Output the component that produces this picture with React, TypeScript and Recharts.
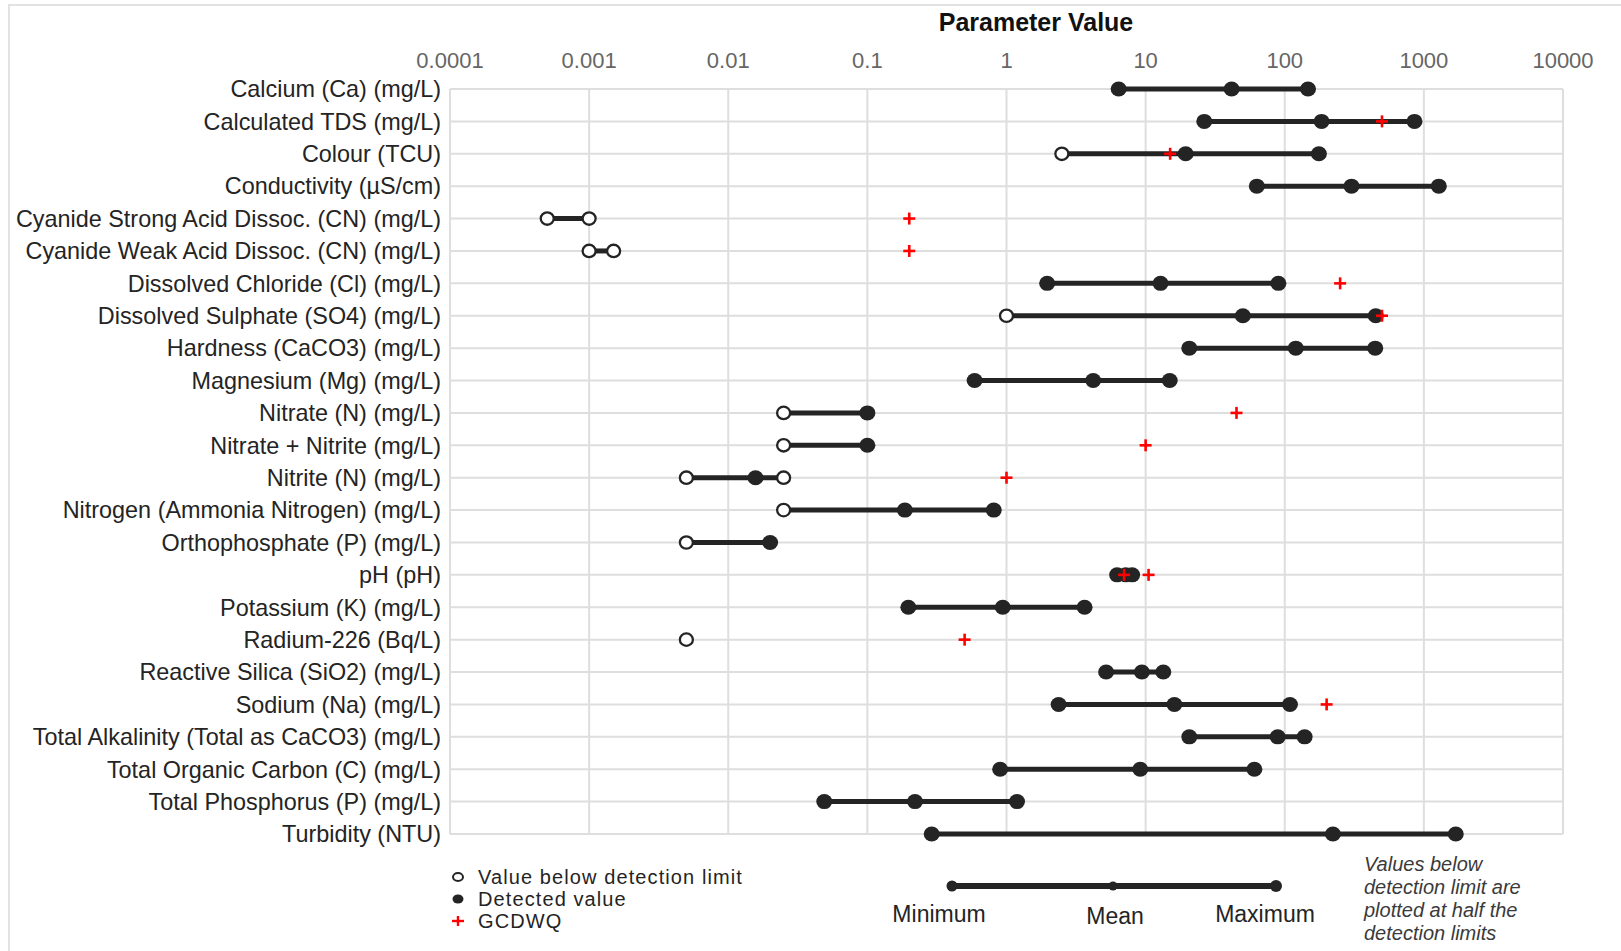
import React from 'react';
import { CartesianGrid, Scatter, ScatterChart, XAxis, YAxis } from 'recharts';

const params = [
  'Calcium (Ca) (mg/L)',
  'Calculated TDS (mg/L)',
  'Colour (TCU)',
  'Conductivity (µS/cm)',
  'Cyanide Strong Acid Dissoc. (CN) (mg/L)',
  'Cyanide Weak Acid Dissoc. (CN) (mg/L)',
  'Dissolved Chloride (Cl) (mg/L)',
  'Dissolved Sulphate (SO4) (mg/L)',
  'Hardness (CaCO3) (mg/L)',
  'Magnesium (Mg) (mg/L)',
  'Nitrate (N) (mg/L)',
  'Nitrate + Nitrite (mg/L)',
  'Nitrite (N) (mg/L)',
  'Nitrogen (Ammonia Nitrogen) (mg/L)',
  'Orthophosphate (P) (mg/L)',
  'pH (pH)',
  'Potassium (K) (mg/L)',
  'Radium-226 (Bq/L)',
  'Reactive Silica (SiO2) (mg/L)',
  'Sodium (Na) (mg/L)',
  'Total Alkalinity (Total as CaCO3) (mg/L)',
  'Total Organic Carbon (C) (mg/L)',
  'Total Phosphorus (P) (mg/L)',
  'Turbidity (NTU)',
];

const minValues = [
  6.4, 26.4, 2.5, 63, 0.0005, 0.001, 1.96, 1.0, 20.6, 0.59, 0.025, 0.025,
  0.005, 0.025, 0.005, 6.24, 0.197, 0.005, 5.2, 2.37, 20.6, 0.9, 0.049, 0.29,
];
const meanValues = [
  41.5, 184, 19.4, 302, null, null, 12.8, 50, 120, 4.2, null, null,
  0.0157, 0.186, null, 7.2, 0.94, null, 9.4, 16.1, 89, 9.15, 0.22, 222,
];
const maxValues = [
  147, 856, 176, 1280, 0.001, 0.0015, 90, 451, 447, 14.9, 0.1, 0.1,
  0.025, 0.81, 0.02, 8.0, 3.64, null, 13.4, 109, 139, 60.5, 1.19, 1695,
];

// true = below detection limit (plotted at half the limit, open marker)
const minBelowDL = [
  false, false, true, false, true, true, false, true, false, false, true, true,
  true, true, true, false, false, true, false, false, false, false, false, false,
];
const maxBelowDL = [
  false, false, false, false, true, true, false, false, false, false, false, false,
  true, false, false, false, false, false, false, false, false, false, false, false,
];

// Guidelines for Canadian Drinking Water Quality
const gcdwq: number[][] = [
  [], [500], [15], [], [0.2], [0.2], [250], [500], [], [], [45], [10],
  [1], [], [], [7, 10.5], [], [0.5], [], [200], [], [], [], [],
];

const xTicks = [0.0001, 0.001, 0.01, 0.1, 1, 10, 100, 1000, 10000];
const xTickLabels = ['0.0001', '0.001', '0.01', '0.1', '1', '10', '100', '1000', '10000'];

const FONT = '"Liberation Sans", Arial, sans-serif';
const DARK = '#242424';

const detected: { x: number; y: number }[] = [];
const belowDL: { x: number; y: number }[] = [];
const guideline: { x: number; y: number }[] = [];
const ranges: { x: number; y: number }[][] = [];

params.forEach((_, i) => {
  const lo = minValues[i];
  const mean = meanValues[i];
  const hi = maxValues[i];
  (minBelowDL[i] ? belowDL : detected).push({ x: lo, y: i });
  if (mean != null) detected.push({ x: mean, y: i });
  if (hi != null) {
    (maxBelowDL[i] ? belowDL : detected).push({ x: hi, y: i });
    ranges.push([{ x: lo, y: i }, { x: hi, y: i }]);
  }
  gcdwq[i].forEach((v) => guideline.push({ x: v, y: i }));
});

const NoDot = () => <g />;

const FilledDot = (p: any) =>
  p.cx == null ? <g /> : <ellipse cx={p.cx} cy={p.cy} rx={8} ry={7.5} fill={DARK} />;

const OpenDot = (p: any) =>
  p.cx == null ? (
    <g />
  ) : (
    <ellipse cx={p.cx} cy={p.cy} rx={6.5} ry={6.2} fill="#fff" stroke={DARK} strokeWidth={2.3} />
  );

const Cross = (p: any) =>
  p.cx == null ? (
    <g />
  ) : (
    <g stroke="#ff0000" strokeWidth={2.6}>
      <line x1={p.cx - 6} y1={p.cy} x2={p.cx + 6} y2={p.cy} />
      <line x1={p.cx} y1={p.cy - 6} x2={p.cx} y2={p.cy + 6} />
    </g>
  );

function Overlay() {
  return (
    <svg
      width={1621}
      height={951}
      style={{ position: 'absolute', left: 0, top: 0, pointerEvents: 'none' }}
      fontFamily={FONT}
    >
      <polyline points="9,951 9,5 1621,5" fill="none" stroke="#e2e2e2" strokeWidth={2} />
      <text x={1036} y={31} textAnchor="middle" fontSize={25} fontWeight="bold" fill="#111">
        Parameter Value
      </text>

      <ellipse cx={458} cy={877} rx={5} ry={4} fill="#fff" stroke={DARK} strokeWidth={2} />
      <ellipse cx={458} cy={899} rx={5.5} ry={4.5} fill={DARK} />
      <g stroke="#ff0000" strokeWidth={2.4}>
        <line x1={452} y1={921} x2={464} y2={921} />
        <line x1={458} y1={916} x2={458} y2={926} />
      </g>
      <g fontSize={20} letterSpacing={1.1} fill={DARK}>
        <text x={478} y={884}>Value below detection limit</text>
        <text x={478} y={906}>Detected value</text>
        <text x={478} y={928}>GCDWQ</text>
      </g>

      <line x1={952} y1={886} x2={1276} y2={886} stroke={DARK} strokeWidth={6} />
      <circle cx={952} cy={886} r={5.5} fill={DARK} />
      <circle cx={1113} cy={886} r={4.5} fill={DARK} />
      <circle cx={1276} cy={886} r={6} fill={DARK} />
      <g fontSize={23} fill={DARK} textAnchor="middle">
        <text x={939} y={922}>Minimum</text>
        <text x={1115} y={924}>Mean</text>
        <text x={1265} y={922}>Maximum</text>
      </g>

      <g fontSize={20} fontStyle="italic" fill="#3a3a3a">
        <text x={1364} y={871}>Values below</text>
        <text x={1364} y={894}>detection limit are</text>
        <text x={1364} y={917}>plotted at half the</text>
        <text x={1364} y={940}>detection limits</text>
      </g>
    </svg>
  );
}

export default function App() {
  return (
    <div style={{ position: 'absolute', left: 0, top: 0, width: 1621, height: 951, background: '#fff' }}>
      <ScatterChart
        width={1621}
        height={951}
        margin={{ top: 0, right: 58, bottom: 117, left: 10 }}
        style={{ fontFamily: FONT }}
      >
        <CartesianGrid stroke="#dedede" strokeWidth={2} />
        <XAxis
          type="number"
          dataKey="x"
          orientation="top"
          scale="log"
          domain={[0.0001, 10000]}
          ticks={xTicks}
          interval={0}
          allowDataOverflow
          height={89}
          tickLine={false}
          axisLine={false}
          tickSize={19}
          tickMargin={2}
          tick={{ fill: '#666', fontSize: 22 }}
          tickFormatter={(v: number) => xTickLabels[xTicks.indexOf(v)] ?? String(v)}
        />
        <YAxis
          type="number"
          dataKey="y"
          domain={[0, params.length - 1]}
          ticks={params.map((_, i) => i)}
          interval={0}
          reversed
          width={440}
          tickLine={false}
          axisLine={false}
          tickSize={7}
          tickMargin={2}
          tick={{ fill: DARK, fontSize: 23.4 }}
          tickFormatter={(i: number) => params[i]}
        />
        {ranges.map((r, i) => (
          <Scatter
            key={'range' + i}
            data={r}
            line={{ stroke: DARK, strokeWidth: 5 }}
            shape={NoDot}
            isAnimationActive={false}
          />
        ))}
        <Scatter data={detected} shape={FilledDot} isAnimationActive={false} />
        <Scatter data={belowDL} shape={OpenDot} isAnimationActive={false} />
        <Scatter data={guideline} shape={Cross} isAnimationActive={false} />
      </ScatterChart>
      <Overlay />
    </div>
  );
}
